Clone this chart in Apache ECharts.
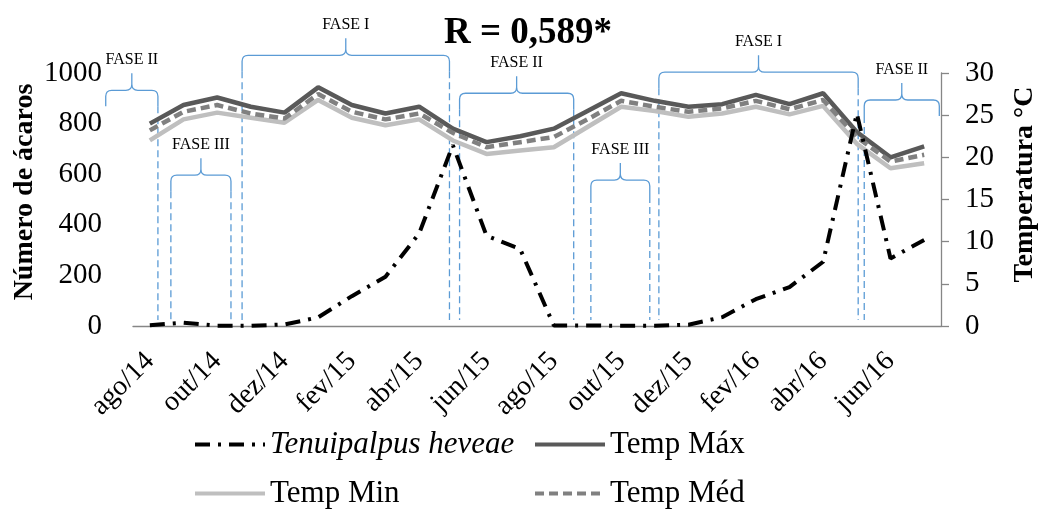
<!DOCTYPE html>
<html lang="pt">
<head>
    <meta charset="utf-8">
    <title>Tenuipalpus heveae x temperatura</title>
    <script src="https://cdn.jsdelivr.net/npm/echarts@6/dist/echarts.min.js"></script>
    <style>
        html, body { margin: 0; padding: 0; background: #fff; }
        #main { width: 1040px; height: 509px; }
    </style>
</head>
<body>
    <div id="main"></div>
    <script type="text/javascript">
        // meses de coleta
        var categories = ['ago/14','set/14','out/14','nov/14','dez/14','jan/15','fev/15','mar/15','abr/15','mai/15','jun/15','jul/15',
                          'ago/15','set/15','out/15','nov/15','dez/15','jan/16','fev/16','mar/16','abr/16','mai/16','jun/16','jul/16'];
        // numero de acaros
        var mites = [3, 13, 1, 1, 6, 34, 118, 195, 366, 715, 357, 304, 2, 2, 1, 1, 5, 35, 106, 154, 254, 840, 267, 340];
        // temperaturas (C)
        var tMax = [24.0, 26.2, 27.1, 26.0, 25.3, 28.3, 26.2, 25.2, 26.0, 23.4, 21.8, 22.5, 23.4, 25.5, 27.6, 26.7, 26.0, 26.3, 27.4, 26.3, 27.6, 23.0, 20.0, 21.3];
        var tMed = [23.2, 25.4, 26.2, 25.2, 24.6, 27.5, 25.4, 24.5, 25.2, 22.9, 21.2, 21.8, 22.4, 24.5, 26.7, 26.0, 25.4, 25.8, 26.7, 25.7, 26.8, 22.4, 19.5, 20.3];
        var tMin = [22.0, 24.5, 25.3, 24.7, 24.1, 26.8, 24.7, 23.8, 24.5, 22.0, 20.4, 20.8, 21.2, 23.6, 26.0, 25.5, 24.8, 25.2, 26.0, 25.1, 26.1, 21.6, 18.7, 19.3];
        var leftTicks = [0, 200, 400, 600, 800, 1000];
        var rightTicks = [0, 5, 10, 15, 20, 25, 30];

        // fases (inicio/fim em indice de mes, nivel em C)
        var phaseLabel = ['FASE II', 'FASE III', 'FASE I', 'FASE II', 'FASE III', 'FASE I', 'FASE II'];
        var phaseStart = [-1.31, 0.625, 2.74, 9.2, 13.1, 15.12, 21.22];
        var phaseEnd = [0.24, 2.41, 8.9, 12.59, 14.85, 21.04, 23.45];
        var phaseLevel = [27.95, 17.88, 32.1, 27.6, 17.3, 30.1, 26.8];
        var phaseDashLeft = [0, 1, 1, 1, 1, 1, 1];
        var phaseDashRight = [1, 1, 1, 1, 1, 1, 0];

        var FONT = '"Liberation Serif", "Times New Roman", serif';
        var BLUE = '#5b9bd5';

        var phaseData = phaseLabel.map(function (l, i) {
            return [phaseStart[i], phaseEnd[i], phaseLevel[i], phaseDashLeft[i], phaseDashRight[i]];
        });

        function renderPhase(params, api) {
            var y = api.value(2);
            var p0 = api.coord([api.value(0), y]);
            var p1 = api.coord([api.value(1), y]);
            var bottom = api.coord([api.value(0), 0.7])[1];
            var xa = p0[0], xb = p1[0], yy = p0[1];
            var xm = (xa + xb) / 2;
            var r = 6, hook = 16, tip = 17;
            var d = 'M' + xa + ',' + (yy + hook) + ' L' + xa + ',' + (yy + r) +
                ' Q' + xa + ',' + yy + ' ' + (xa + r) + ',' + yy +
                ' L' + (xm - r) + ',' + yy +
                ' Q' + xm + ',' + yy + ' ' + xm + ',' + (yy - r) +
                ' L' + xm + ',' + (yy - tip) +
                ' M' + xm + ',' + (yy - r) +
                ' Q' + xm + ',' + yy + ' ' + (xm + r) + ',' + yy +
                ' L' + (xb - r) + ',' + yy +
                ' Q' + xb + ',' + yy + ' ' + xb + ',' + (yy + r) +
                ' L' + xb + ',' + (yy + hook);
            var children = [{
                type: 'path',
                shape: { pathData: d },
                style: { fill: null, stroke: BLUE, lineWidth: 1.3 }
            }, {
                type: 'text',
                style: {
                    text: phaseLabel[params.dataIndex],
                    x: xm, y: yy - tip - 5,
                    align: 'center', verticalAlign: 'bottom',
                    font: '16px ' + FONT, fill: '#000'
                }
            }];
            if (api.value(3)) {
                children.push({ type: 'line', shape: { x1: xa, y1: yy + hook, x2: xa, y2: bottom },
                    style: { stroke: BLUE, lineWidth: 1.3, lineDash: [7, 4] } });
            }
            if (api.value(4)) {
                children.push({ type: 'line', shape: { x1: xb, y1: yy + hook, x2: xb, y2: bottom },
                    style: { stroke: BLUE, lineWidth: 1.3, lineDash: [7, 4] } });
            }
            return { type: 'group', children: children };
        }

        var myChart = echarts.init(document.getElementById('main'));
        var legendText = { fontFamily: FONT, fontSize: 31, color: '#000' };
        var legendBase = { padding: 0, itemWidth: 70, itemHeight: 14, itemStyle: { opacity: 0 }, lineStyle: { width: 4 } };

        myChart.setOption({
            animation: false,
            backgroundColor: '#fff',
            title: {
                text: 'R = 0,589*',
                left: 523, top: 10, textAlign: 'center',
                textStyle: { fontFamily: FONT, fontSize: 37, fontWeight: 'bold', color: '#000' }
            },
            legend: [
                Object.assign({ data: ['Tenuipalpus heveae'], left: 193, top: 429,
                  textStyle: Object.assign({ fontStyle: 'italic' }, legendText) }, legendBase),
                Object.assign({ data: ['Temp Máx'], left: 533, top: 429, textStyle: legendText }, legendBase),
                Object.assign({ data: ['Temp Min'], left: 193, top: 478, textStyle: legendText }, legendBase),
                Object.assign({ data: ['Temp Méd'], left: 533, top: 478, textStyle: legendText }, legendBase)
            ],
            grid: { left: 133, right: 99, top: 73, bottom: 183, outerBoundsMode: 'none' },
            xAxis: [{
                type: 'category',
                data: categories,
                boundaryGap: true,
                axisLine: { lineStyle: { color: '#868686', width: 1.3 } },
                axisTick: { interval: 1, length: 9, lineStyle: { color: '#868686', width: 1.3 } },
                axisLabel: { interval: 1, rotate: 45, margin: 31, fontFamily: FONT, fontSize: 28, color: '#000' }
            }, {
                type: 'value', show: false, min: -0.5, max: 23.5
            }],
            yAxis: [{
                type: 'value', min: leftTicks[0], max: leftTicks[leftTicks.length - 1], interval: leftTicks[1] - leftTicks[0],
                name: 'Número de ácaros', nameLocation: 'middle', nameRotate: 90, nameGap: 94, nameMoveOverlap: false,
                nameTextStyle: { fontFamily: FONT, fontSize: 28, fontWeight: 'bold', color: '#000', padding: [0, 0, 0, 15] },
                axisLine: { show: false }, axisTick: { show: false }, splitLine: { show: false },
                axisLabel: { margin: 31, fontFamily: FONT, fontSize: 29, color: '#000',
                    formatter: function (v) { return String(v); } }
            }, {
                type: 'value', position: 'right', min: rightTicks[0], max: rightTicks[rightTicks.length - 1], interval: rightTicks[1] - rightTicks[0],
                name: 'Temperatura °C', nameLocation: 'middle', nameRotate: 90, nameGap: 70, nameMoveOverlap: false,
                nameTextStyle: { fontFamily: FONT, fontSize: 28, fontWeight: 'bold', color: '#000', padding: [0, 0, 0, 30] },
                axisLine: { show: true, lineStyle: { color: '#868686', width: 1.3 } },
                axisTick: { show: true, length: 8, lineStyle: { color: '#868686', width: 1.3 } },
                splitLine: { show: false },
                axisLabel: { margin: 24, fontFamily: FONT, fontSize: 29, color: '#000' }
            }],
            series: [{
                name: 'Tenuipalpus heveae', type: 'line', yAxisIndex: 0, data: mites,
                symbol: 'none', color: '#000', z: 5,
                lineStyle: { color: '#000', width: 4, type: [15, 8, 3, 8], cap: 'butt' }
            }, {
                name: 'Temp Máx', type: 'line', yAxisIndex: 1, data: tMax,
                symbol: 'none', color: '#595959',
                lineStyle: { color: '#595959', width: 4.5 }
            }, {
                name: 'Temp Min', type: 'line', yAxisIndex: 1, data: tMin,
                symbol: 'none', color: '#bfbfbf',
                lineStyle: { color: '#bfbfbf', width: 4.5 }
            }, {
                name: 'Temp Méd', type: 'line', yAxisIndex: 1, data: tMed,
                symbol: 'none', color: '#808080',
                lineStyle: { color: '#808080', width: 4.5, type: [9, 5] }
            }, {
                type: 'custom', xAxisIndex: 1, yAxisIndex: 1, silent: true, clip: false, z: 3,
                renderItem: renderPhase,
                data: phaseData
            }]
        });
    </script>
</body>
</html>
